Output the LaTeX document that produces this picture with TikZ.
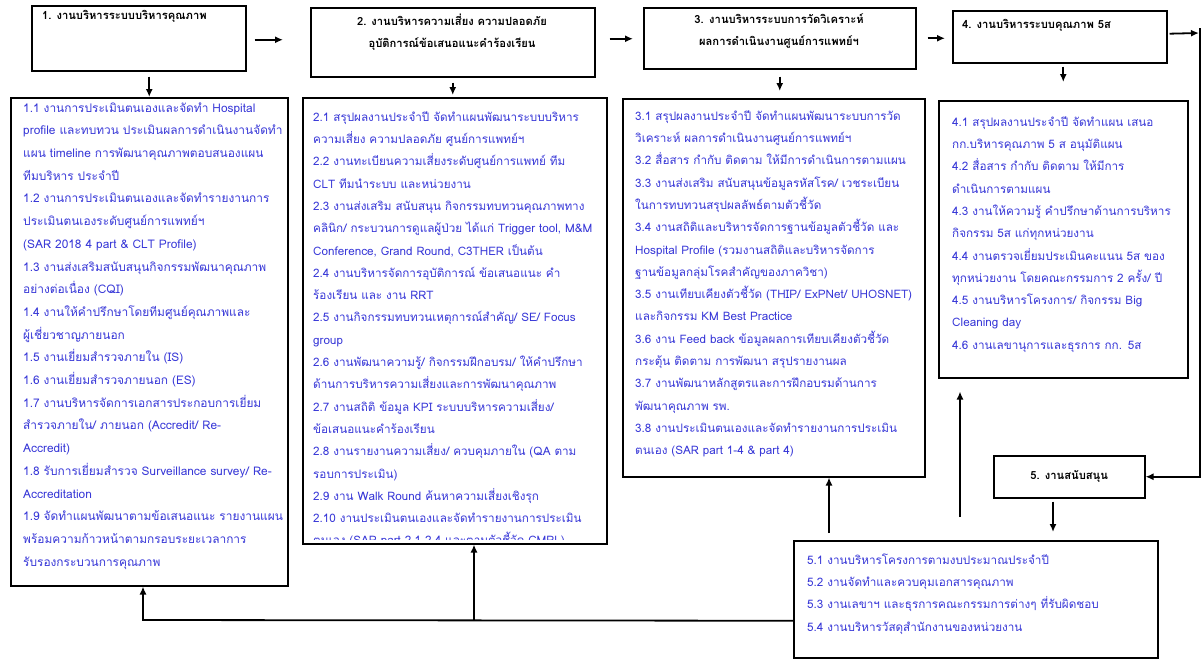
\documentclass[tikz,border=0pt]{standalone}
\usepackage{fontspec}
\setmainfont[Script=Thai]{Loma}
\usetikzlibrary{arrows.meta}
\definecolor{txtblue}{RGB}{55,55,215}
\begin{document}
\begin{tikzpicture}[x=1pt,y=-1pt,
  hdr/.style={draw=black, line width=1.5pt, anchor=north west, inner sep=0pt},
  cbox/.style={draw=black, line width=1.5pt, anchor=north west, inner sep=0pt},
  htxt/.style={font=\bfseries\fontsize{11.2}{22}\selectfont, inner sep=0pt, align=center},
  btxt/.style={font=\fontsize{11.7}{22.3}\selectfont, text=txtblue, inner sep=0pt, align=left, anchor=north west, text width=380pt},
  arr/.style={line width=1.8pt, -{Latex[length=8pt,width=7pt]}},
  ln/.style={line width=1.8pt}]
\useasboundingbox (0,0) rectangle (1202,659);

% headers
\node[hdr, minimum width=214pt, minimum height=65pt] (h1) at (31,5) {};
\node[htxt, anchor=west] (h1t) at (42,16) {1.\hspace{5pt}งานบริหารระบบบริหารคุณภาพ};
\node[hdr, minimum width=284pt, minimum height=69pt] (h2) at (310,7) {};
\node[htxt, anchor=north, text width=280pt] (h2t) at (452,9.6) {\strut 2.\hspace{5pt}งานบริหารความเสี่ยง ความปลอดภัย\\อุบัติการณ์ข้อเสนอแนะคำร้องเรียน};
\node[hdr, minimum width=272pt, minimum height=61pt] (h3) at (643,7) {};
\node[htxt, anchor=north, text width=268pt] (h3t) at (779,7.6) {\strut 3. งานบริหารระบบการวัดวิเคราะห์\\ผลการดำเนินงานศูนย์การแพทย์ฯ};
\node[hdr, minimum width=214pt, minimum height=52pt] (h4) at (952,10) {};
\node[htxt, anchor=west] (h4t) at (962,25) {4. งานบริหารระบบคุณภาพ 5ส};
\node[hdr, minimum width=151pt, minimum height=42pt] (s5) at (993,455) {};
\node[htxt] (s5t) at (s5.center) {5. งานสนับสนุน};

% content boxes
\node[cbox, minimum width=277pt, minimum height=488pt] (b1) at (10,97) {};
\node[cbox, minimum width=304pt, minimum height=446pt] (b2) at (302,97) {};
\node[cbox, minimum width=302pt, minimum height=378pt] (b3) at (622,98) {};
\node[cbox, minimum width=249pt, minimum height=277pt] (b4) at (938,100) {};
\node[cbox, minimum width=364pt, minimum height=117pt] (b5) at (793,540) {};

\node[btxt, font=\fontsize{11.9}{22.7}\selectfont] (t1) at (23,96.1) {\strut 1.1 งานการประเมินตนเองและจัดทำ Hospital\\
profile และทบทวน ประเมินผลการดำเนินงานจัดทำ\\
แผน timeline การพัฒนาคุณภาพตอบสนองแผน\\
ทีมบริหาร ประจำปี\\
1.2 งานการประเมินตนเองและจัดทำรายงานการ\\
ประเมินตนเองระดับศูนย์การแพทย์ฯ\\
(SAR 2018 4 part \& CLT Profile)\\
1.3 งานส่งเสริมสนับสนุนกิจกรรมพัฒนาคุณภาพ\\
อย่างต่อเนื่อง (CQI)\\
1.4 งานให้คำปรึกษาโดยทีมศูนย์คุณภาพและ\\
ผู้เชี่ยวชาญภายนอก\\
1.5 งานเยี่ยมสำรวจภายใน (IS)\\
1.6 งานเยี่ยมสำรวจภายนอก (ES)\\
1.7 งานบริหารจัดการเอกสารประกอบการเยี่ยม\\
สำรวจภายใน/ ภายนอก (Accredit/ Re-\\
Accredit)\\
1.8 รับการเยี่ยมสำรวจ Surveillance survey/ Re-\\
Accreditation\\
1.9 จัดทำแผนพัฒนาตามข้อเสนอแนะ รายงานแผน\\
พร้อมความก้าวหน้าตามกรอบระยะเวลาการ\\
รับรองกระบวนการคุณภาพ};

\begin{scope}
\clip (302,97) rectangle (606,539);
\node[btxt] (t2) at (313,105.4) {\strut 2.1 สรุปผลงานประจำปี จัดทำแผนพัฒนาระบบบริหาร\\
ความเสี่ยง ความปลอดภัย ศูนย์การแพทย์ฯ\\
2.2 งานทะเบียนความเสี่ยงระดับศูนย์การแพทย์ ทีม\\
CLT ทีมนำระบบ และหน่วยงาน\\
2.3 งานส่งเสริม สนับสนุน กิจกรรมทบทวนคุณภาพทาง\\
คลินิก/ กระบวนการดูแลผู้ป่วย ได้แก่ Trigger tool, M\&M\\
Conference, Grand Round, C3THER เป็นต้น\\
2.4 งานบริหารจัดการอุบัติการณ์ ข้อเสนอแนะ คำ\\
ร้องเรียน และ งาน RRT\\
2.5 งานกิจกรรมทบทวนเหตุการณ์สำคัญ/ SE/ Focus\\
group\\
2.6 งานพัฒนาความรู้/ กิจกรรมฝึกอบรม/ ให้คำปรึกษา\\
ด้านการบริหารความเสี่ยงและการพัฒนาคุณภาพ\\
2.7 งานสถิติ ข้อมูล KPI ระบบบริหารความเสี่ยง/\\
ข้อเสนอแนะคำร้องเรียน\\
2.8 งานรายงานความเสี่ยง/ ควบคุมภายใน (QA ตาม\\
รอบการประเมิน)\\
2.9 งาน Walk Round ค้นหาความเสี่ยงเชิงรุก\\
2.10 งานประเมินตนเองและจัดทำรายงานการประเมิน\\
ตนเอง (SAR part 2.1-2.4 และตามตัวชี้วัด CMPL)};
\end{scope}

\node[btxt] (t3) at (635,104.4) {\strut 3.1 สรุปผลงานประจำปี จัดทำแผนพัฒนาระบบการวัด\\
วิเคราะห์ ผลการดำเนินงานศูนย์การแพทย์ฯ\\
3.2 สื่อสาร กำกับ ติดตาม ให้มีการดำเนินการตามแผน\\
3.3 งานส่งเสริม สนับสนุนข้อมูลรหัสโรค/ เวชระเบียน\\
ในการทบทวนสรุปผลลัพธ์ตามตัวชี้วัด\\
3.4 งานสถิติและบริหารจัดการฐานข้อมูลตัวชี้วัด และ\\
Hospital Profile (รวมงานสถิติและบริหารจัดการ\\
ฐานข้อมูลกลุ่มโรคสำคัญของภาควิชา)\\
3.5 งานเทียบเคียงตัวชี้วัด (THIP/ ExPNet/ UHOSNET)\\
และกิจกรรม KM Best Practice\\
3.6 งาน Feed back ข้อมูลผลการเทียบเคียงตัวชี้วัด\\
กระตุ้น ติดตาม การพัฒนา สรุปรายงานผล\\
3.7 งานพัฒนาหลักสูตรและการฝึกอบรมด้านการ\\
พัฒนาคุณภาพ รพ.\\
3.8 งานประเมินตนเองและจัดทำรายงานการประเมิน\\
ตนเอง (SAR part 1-4 \& part 4)};

\node[btxt] (t4) at (952,110.4) {\strut 4.1 สรุปผลงานประจำปี จัดทำแผน เสนอ\\
กก.บริหารคุณภาพ 5 ส อนุมัติแผน\\
4.2 สื่อสาร กำกับ ติดตาม ให้มีการ\\
ดำเนินการตามแผน\\
4.3 งานให้ความรู้ คำปรึกษาด้านการบริหาร\\
กิจกรรม 5ส แก่ทุกหน่วยงาน\\
4.4 งานตรวจเยี่ยมประเมินคะแนน 5ส ของ\\
ทุกหน่วยงาน โดยคณะกรรมการ 2 ครั้ง/ ปี\\
4.5 งานบริหารโครงการ/ กิจกรรม Big\\
Cleaning day\\
4.6 งานเลขานุการและธุรการ กก. 5ส};

\node[btxt] (t5) at (807,548.4) {\strut 5.1 งานบริหารโครงการตามงบประมาณประจำปี\\
5.2 งานจัดทำและควบคุมเอกสารคุณภาพ\\
5.3 งานเลขาฯ และธุรการคณะกรรมการต่างๆ ที่รับผิดชอบ\\
5.4 งานบริหารวัสดุสำนักงานของหน่วยงาน};

% horizontal arrows between headers
\draw[arr, shorten <=8pt, shorten >=27pt] ([yshift=-1.5pt]h1.east) -- ([yshift=-1.5pt]h1.east -| h2.west);
\draw[arr, shorten <=14pt, shorten >=10pt] ([yshift=3.5pt]h2.east) -- ([yshift=3.5pt]h2.east -| h3.west);
\draw[arr, shorten <=11pt, shorten >=7pt] (h3.east) -- (h3.east -| h4.west);
\coordinate (rtop) at (1200,28);
\coordinate (rend) at (1199,33);
\draw[arr, shorten <=2pt] ([yshift=3pt]h4.east) -- (rend);
\draw[arr] (rtop) |- (s5.east);

% down arrows
\draw[arr, shorten <=5pt] (b1.north |- h1.south) -- (b1.north);
\draw[arr, shorten <=5pt, shorten >=2pt] (h2.south) -- (h2.south |- b2.north);
\draw[arr, shorten <=7pt, shorten >=7pt] (h3.south) -- (h3.south |- b3.north);
\draw[arr, shorten <=3pt, shorten >=18pt] (b4.north |- h4.south) -- (b4.north);
\draw[arr, shorten <=3pt, shorten >=8pt] (1053,0 |- s5.south) -- (1053,0 |- b5.north);

% bottom feedback
\coordinate (j1) at (143,620);
\coordinate (j2) at (474,620);
\draw[arr] ([yshift=-21.5pt]b5.west) -- (j1) -- (j1 |- b1.south);
\draw[arr] (j2) -- (j2 |- b2.south);
\draw[arr, shorten <=7pt] (829,0 |- b5.north) -- (829,0 |- b3.south);
\draw[arr, shorten <=23pt, shorten >=13pt] (960,0 |- b5.north) -- (960,0 |- b4.south);
\end{tikzpicture}
\end{document}
